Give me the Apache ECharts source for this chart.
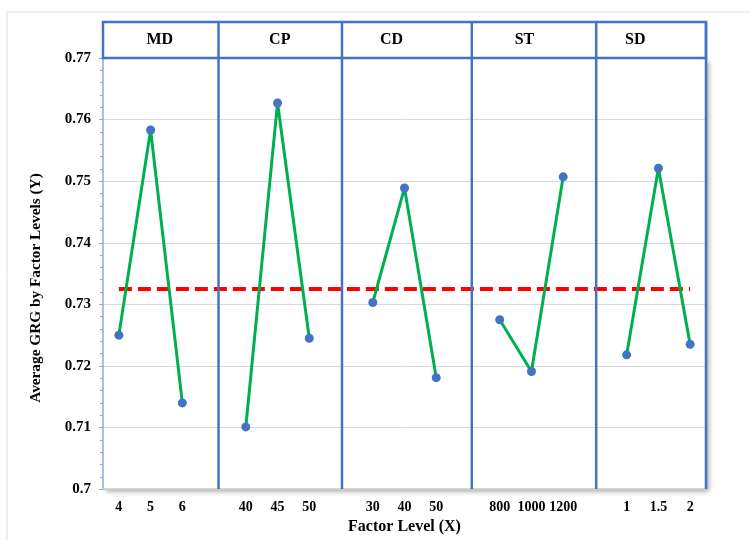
<!DOCTYPE html>
<html><head><meta charset="utf-8">
<script src="https://cdn.jsdelivr.net/npm/echarts@6/dist/echarts.min.js"></script>
<style>html,body{margin:0;padding:0;background:#fff}#c{width:750px;height:540px}</style>
</head><body><div id="c"></div>
<script>
// ---- data ----
const factors = ['MD', 'CP', 'CD', 'ST', 'SD'];
const levelsMD = ['4', '5', '6'];
const levelsCP = ['40', '45', '50'];
const levelsCD = ['30', '40', '50'];
const levelsST = ['800', '1000', '1200'];
const levelsSD = ['1', '1.5', '2'];
const grgMD = [0.7250, 0.7583, 0.7140];
const grgCP = [0.7101, 0.7627, 0.7245];
const grgCD = [0.7303, 0.7489, 0.7181];
const grgST = [0.7275, 0.7191, 0.7507];
const grgSD = [0.7218, 0.7521, 0.7235];
const meanGRG = 0.7325;
const yMin = 0.70, yMax = 0.77, yStep = 0.01;

// ---- layout / style ----
const SERIF = '"Liberation Serif","Times New Roman",serif';
const BLUE = '#4472c4';
const GREEN = '#00b050';
const levelSets = [levelsMD, levelsCP, levelsCD, levelsST, levelsSD];
const valueSets = [grgMD, grgCP, grgCD, grgST, grgSD];
const dividerPos = [3.14, 7.03, 11.12, 15.04];
const headerPos = [1.29, 5.07, 8.59, 12.78, 16.27];

const categories = [];
const series = [];
levelSets.forEach((lv, i) => {
  const start = categories.length;
  lv.forEach(l => categories.push(l));
  series.push({
    name: factors[i], type: 'line',
    data: valueSets[i].map((v, j) => [start + j, v]),
    symbol: 'circle', symbolSize: 9,
    itemStyle: { color: BLUE },
    lineStyle: { color: GREEN, width: 3 },
    z: 5
  });
  if (i < levelSets.length - 1) categories.push('');
});
series.push({
  name: 'mean', type: 'line',
  data: [[0, meanGRG], [categories.length - 1, meanGRG]],
  symbol: 'none',
  lineStyle: { color: '#ff0000', width: 4, type: [13, 6] },
  z: 4
});

const chart = echarts.init(document.getElementById('c'), null, { renderer: 'canvas' });
chart.setOption({
  animation: false,
  backgroundColor: '#fff',
  grid: {
    left: 103, right: 44, top: 58, bottom: 42,
    show: true, backgroundColor: '#fff', borderWidth: 0,
    shadowColor: 'rgba(0,0,0,0.35)', shadowBlur: 5, shadowOffsetX: 3, shadowOffsetY: 3
  },
  xAxis: [{
    type: 'category', data: categories, boundaryGap: true,
    name: 'Factor Level (X)', nameLocation: 'middle', nameGap: 27,
    nameTextStyle: { fontFamily: SERIF, fontWeight: 'bold', fontSize: 16, color: '#000' },
    axisLine: { lineStyle: { color: '#c8c8c8', width: 1.5 } },
    axisTick: { show: false },
    axisLabel: { interval: 0, margin: 11, fontFamily: SERIF, fontWeight: 'bold', fontSize: 14, color: '#000' },
    splitLine: { show: false }
  }, {
    type: 'value', min: -0.5, max: 18.5, show: false
  }],
  yAxis: {
    type: 'value', min: yMin, max: yMax, interval: yStep,
    axisLine: { show: true, onZero: false, lineStyle: { color: '#8eaadb', width: 1.5 } },
    axisTick: { show: true, length: 4, lineStyle: { color: '#8eaadb' } },
    minorTick: { show: true, splitNumber: 5, length: 3, lineStyle: { color: '#8eaadb' } },
    axisLabel: { margin: 12, fontFamily: SERIF, fontWeight: 'bold', fontSize: 15, color: '#000' },
    splitLine: { lineStyle: { color: '#d9d9d9', width: 1 } }
  },
  series: series
});

function drawOverlay() {
  const px = v => chart.convertToPixel({ xAxisIndex: 1 }, v);
  const py = v => chart.convertToPixel({ yAxisIndex: 0 }, v);
  const left = px(-0.5), right = px(18.5);
  const top = py(yMax), bottom = py(yMin);
  const hTop = top - 36;
  const g = [];
  g.push({ type: 'rect', shape: { x: 7, y: 12, width: 900, height: 700 }, style: { fill: 'none', stroke: '#dcdcdc', lineWidth: 1 }, z: -10, silent: true });
  g.push({ type: 'rect', shape: { x: left, y: hTop, width: right - left, height: top - hTop }, style: { fill: '#fff', stroke: BLUE, lineWidth: 2.5 }, z: 10 });
  dividerPos.forEach(d => {
    const x = px(d);
    g.push({ type: 'line', shape: { x1: x, y1: hTop, x2: x, y2: bottom }, style: { stroke: BLUE, lineWidth: 2.5 }, z: 11 });
  });
  g.push({ type: 'line', shape: { x1: right, y1: hTop, x2: right, y2: bottom }, style: { stroke: BLUE, lineWidth: 2.5 }, z: 11 });
  factors.forEach((f, i) => {
    g.push({ type: 'text', x: px(headerPos[i]), y: (hTop + top) / 2, style: { text: f, fontFamily: SERIF, fontWeight: 'bold', fontSize: 16, fill: '#000', align: 'center', verticalAlign: 'middle' }, z: 12 });
  });
  g.push({ type: 'text', x: 36, y: 288, rotation: Math.PI / 2, style: { text: 'Average GRG by Factor Levels (Y)', fontFamily: SERIF, fontWeight: 'bold', fontSize: 15.3, fill: '#000', align: 'center', verticalAlign: 'middle' }, z: 12 });
  chart.setOption({ graphic: g });
}
drawOverlay();
</script>
</body></html>
